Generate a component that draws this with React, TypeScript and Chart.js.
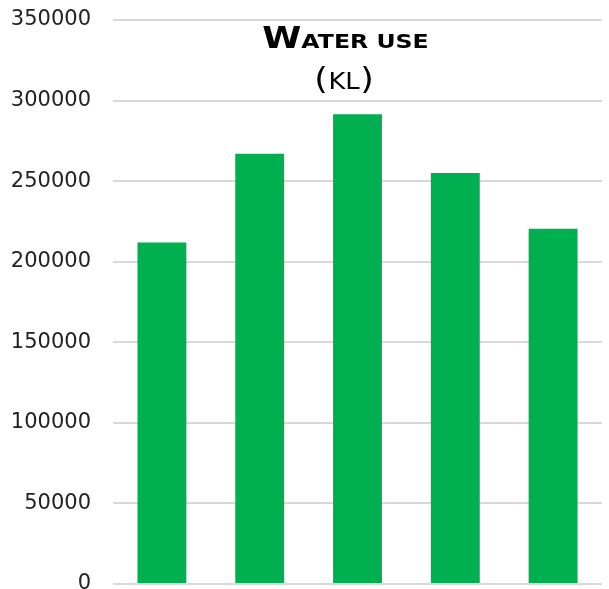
import React, { useEffect, useRef } from "react";
import { Chart, registerables } from "chart.js";

Chart.register(...registerables);

const categories = ["1", "2", "3", "4", "5"];
const waterUse = [212000, 267000, 291500, 255000, 220500];
const yTicks = [0, 50000, 100000, 150000, 200000, 250000, 300000, 350000];
const titleLine1 = [
  { t: "W", big: true },
  { t: "ATER USE", big: false },
];
const titleLine2 = [
  { t: "(", big: true },
  { t: "KL", big: false },
  { t: ")", big: true },
];

const FONT = "'DejaVu Sans', Verdana, sans-serif";

function drawLine(
  ctx: CanvasRenderingContext2D,
  parts: { t: string; big: boolean }[],
  cx: number,
  baseline: number,
  big: number,
  small: number,
  weight: string,
  sx: number,
  gap: number
) {
  const measured = parts.map((p) => {
    const size = p.big ? big : small;
    ctx.font = `${weight} ${size}px ${FONT}`;
    return { ...p, size, w: ctx.measureText(p.t).width };
  });
  const total = measured.reduce((s, p) => s + p.w, 0) + gap * (measured.length - 1);
  ctx.save();
  ctx.translate(cx, baseline);
  ctx.scale(sx, 1);
  let x = -total / 2;
  for (const p of measured) {
    ctx.font = `${weight} ${p.size}px ${FONT}`;
    ctx.fillText(p.t, x, 0);
    x += p.w + gap;
  }
  ctx.restore();
}

const titlePlugin = {
  id: "waterTitle",
  afterDraw(chart: any) {
    const ctx: CanvasRenderingContext2D = chart.ctx;
    ctx.save();
    ctx.fillStyle = "#000";
    ctx.textBaseline = "alphabetic";
    ctx.textAlign = "left";
    drawLine(ctx, titleLine1, 345.5, 47.5, 30, 20, "bold", 1.18, 0);
    drawLine(ctx, titleLine2, 344, 89, 31, 23, "normal", 1.12, 0.5);
    ctx.restore();
  },
};

export default function App() {
  const ref = useRef<HTMLCanvasElement | null>(null);
  useEffect(() => {
    if (!ref.current) return;
    const chart = new Chart(ref.current, {
      type: "bar",
      data: {
        labels: categories,
        datasets: [
          {
            data: waterUse,
            backgroundColor: "#00B050",
            borderWidth: 0,
            barPercentage: 0.5,
            categoryPercentage: 1,
          },
        ],
      },
      options: {
        animation: false,
        responsive: false,
        maintainAspectRatio: false,
        layout: { padding: { top: 20, bottom: 5, left: 0, right: 7 } },
        plugins: { legend: { display: false }, tooltip: { enabled: false }, title: { display: false } },
        scales: {
          x: { display: false },
          y: {
            min: 0,
            max: 350000,
            afterBuildTicks: (scale: any) => {
              scale.ticks = yTicks.map((v) => ({ value: v }));
            },
            afterFit: (scale: any) => {
              scale.width = 113;
              scale.paddingTop = 0;
              scale.paddingBottom = 0;
            },
            border: { display: false },
            grid: { color: "#d9d9d9", lineWidth: 2, drawTicks: false },
            ticks: {
              color: "#222",
              padding: 22,
              font: { family: FONT, size: 21 },
              callback: (v: any) => String(v),
            },
          },
        },
      },
      plugins: [titlePlugin],
    });
    return () => chart.destroy();
  }, []);
  return (
    <div style={{ position: "fixed", left: 0, top: 0, width: 609, height: 589, background: "#fff" }}>
      <canvas ref={ref} width={609} height={589} style={{ display: "block", width: 609, height: 589 }} />
    </div>
  );
}
